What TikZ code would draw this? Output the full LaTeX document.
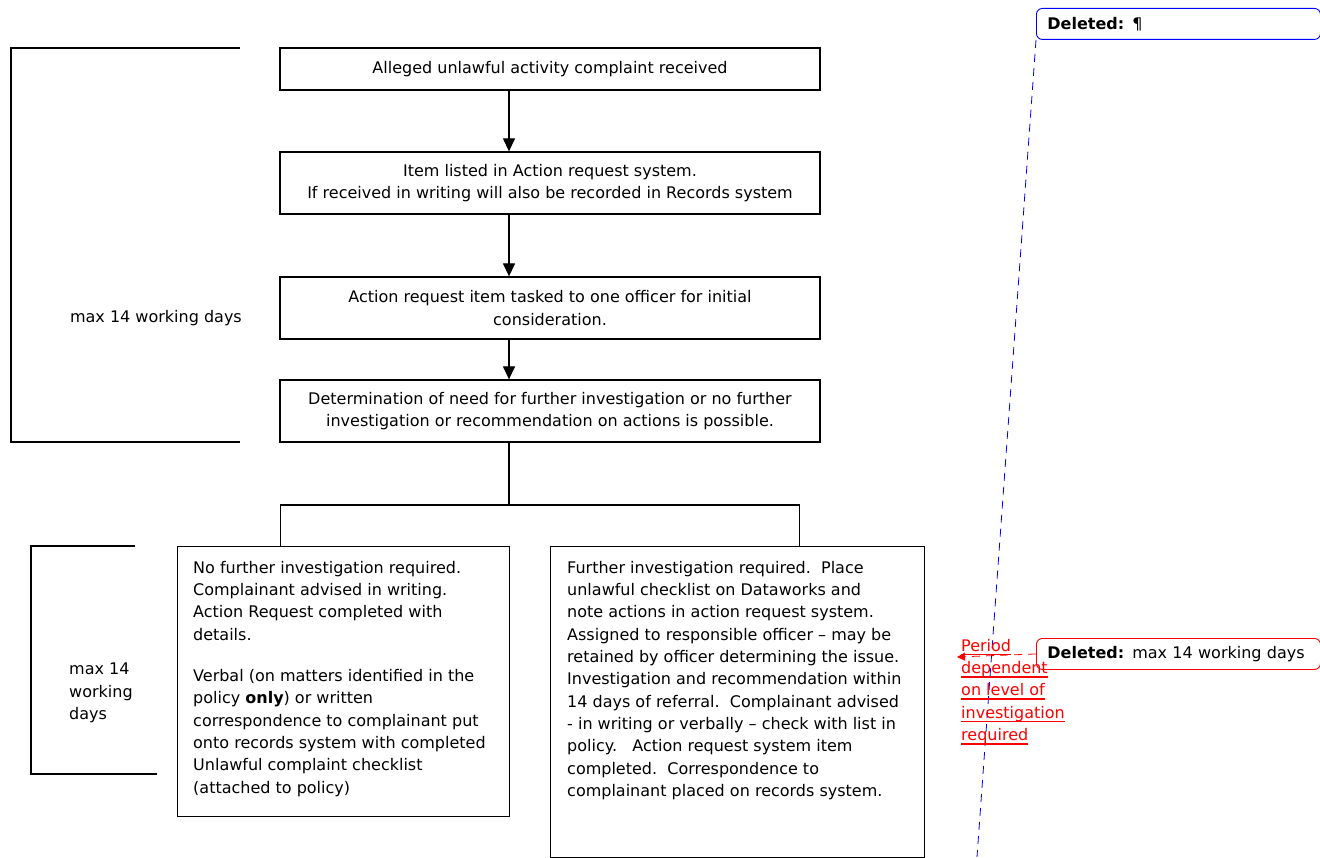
\documentclass[tikz,border=0pt]{standalone}
\usepackage{fontspec}
\setmainfont{DejaVu Sans}
\usepackage{tikz}
\usetikzlibrary{arrows.meta, positioning}
\tikzstyle{flowbox} = [draw, line width=1.3pt, minimum width=540, minimum height=62, align=center, inner sep=0]
\tikzstyle{arrow} = [line width=1.3pt,-{Triangle[width=12pt,length=13pt]}]
\tikzstyle{joint} = [line width=1.3pt]
\tikzstyle{body} = [align=left, inner sep=0, anchor=north west]
\tikzstyle{bubble} = [draw, rounded corners=6pt, line width=0.9pt, anchor=north west, minimum height=31, text width=262, inner xsep=11, inner ysep=0, align=left]
\tikzstyle{bluetrack} = [blue, line width=0.8pt, dash pattern=on 8pt off 6pt]
\tikzstyle{redtrack} = [red, line width=0.8pt, dash pattern=on 8pt off 6pt, -{Triangle[width=8pt,length=8pt]}]
\newsavebox{\insbox}
\newcommand{\inserted}[1]{\sbox{\insbox}{#1}\rlap{\vrule height -2.4pt depth 4pt width \wd\insbox}\usebox{\insbox}}

\begin{document}
\begin{tikzpicture}[x=1pt, y=-1pt, font={\fontsize{16}{22.3}\selectfont}]
\useasboundingbox (0,0) rectangle (1320,858);

% main flow
\node[flowbox, minimum height=42] (received) at (550,69) {Alleged unlawful activity complaint received};
\node[flowbox] (listed) at (550,183) {Item listed in Action request system.\\If received in writing will also be recorded in Records system};
\node[flowbox] (tasked) at (550,308) {Action request item tasked to one officer for initial\\consideration.};
\node[flowbox] (decide) at (550,411) {Determination of need for further investigation or no further\\investigation or recommendation on actions is possible.};

\draw[arrow] ([xshift=-41pt]received.south) -- ([xshift=-41pt]listed.north);
\draw[arrow] ([xshift=-41pt]listed.south) -- ([xshift=-41pt]tasked.north);
\draw[arrow] ([xshift=-41pt]tasked.south) -- ([xshift=-41pt]decide.north);

% two outcomes
\node[draw, line width=1.3pt, anchor=north west, minimum width=332, minimum height=270] (nofurther) at (177,546) {};
\node[draw, line width=1.3pt, anchor=north west, minimum width=374, minimum height=311] (further) at (550,546) {};
\node[body] (nofurthertxt) at (193,561) {No further investigation required.\\Complainant advised in writing.\\Action Request completed with\\details.\\[19pt]Verbal (on matters identified in the\\policy \textbf{only}) or written\\correspondence to complainant put\\onto records system with completed\\Unlawful complaint checklist\\(attached to policy)};
\node[body] (furthertxt) at (567,561) {Further investigation required.\ \ Place\\unlawful checklist on Dataworks and\\note actions in action request system.\\Assigned to responsible officer – may be\\retained by officer determining the issue.\\Investigation and recommendation within\\14 days of referral.\ \ Complainant advised\\- in writing or verbally – check with list in\\policy.\ \ \ Action request system item\\completed.\ \ Correspondence to\\complainant placed on records system.};

\draw[joint] ([xshift=-41pt]decide.south) -- ++(0,63);
\draw[joint] ([xshift=-63pt]nofurther.north) -- ++(0,-41) -| ([xshift=62pt]further.north);

% time brackets
\draw[joint] (240,48) -- (11,48) -- (11,442) -- (240,442);
\node[anchor=east, inner sep=0] (maxa) at (242,318) {max 14 working days};
\draw[joint] (135,546) -- (31,546) -- (31,774) -- (157,774);
\node[anchor=west, align=left, inner sep=0] (maxb) at (69,693) {max 14\\working\\days};

% review marks
\node[bubble, blue] (delpara) at (1036,8) {\color{black}\textbf{Deleted:} ¶};
\coordinate (trackend) at (977,857);
\draw[bluetrack] (delpara.south west) -- (trackend);
\node[bubble, red] (delmax) at (1036,638) {\color{black}\textbf{Deleted:} max 14 working days};
\node[body, red] (period) at (961,639) {\inserted{Period}\\\inserted{dependent}\\\inserted{on level of}\\\inserted{investigation}\\\inserted{required}};
\coordinate (periodtip) at (957,657);
\draw[redtrack] (delmax.west) -- (periodtip);
\end{tikzpicture}
\end{document}
